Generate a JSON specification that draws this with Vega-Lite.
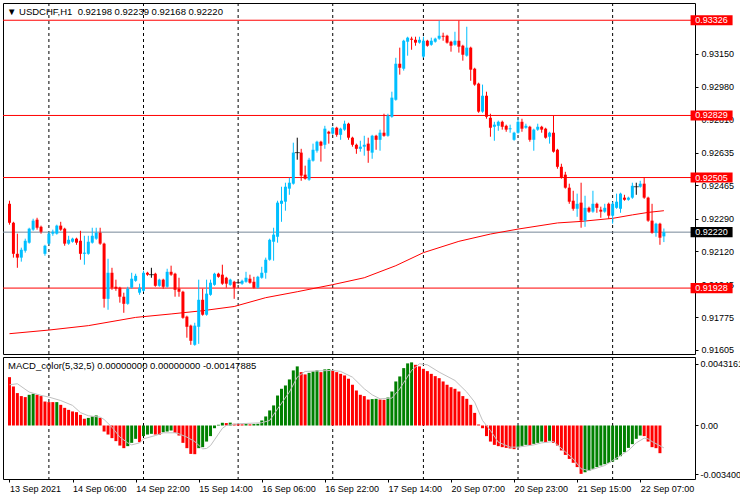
{
"$schema":"https://vega.github.io/schema/vega-lite/v6.json",
"background":"white",
"padding":{"left":2,"top":2,"right":0,"bottom":0},
"spacing":3,
"bounds":"flush",
"config":{
"view":{"stroke":"black","strokeWidth":1},
"font":"Liberation Sans",
"axis":{"labelFont":"Liberation Sans","labelFontSize":9,"labelColor":"black","tickColor":"black","tickSize":3,"domain":false,"grid":false,"labelOverlap":false,"labelFlush":false},
"title":{"font":"Liberation Sans","fontSize":9.5,"fontWeight":"normal","color":"black","anchor":"start","frame":"group"}
},
"datasets":{
"candles":[
{"i":0,"o":0.92368,"h":0.92384,"l":0.92259,"c":0.92269},
{"i":1,"o":0.92269,"h":0.92274,"l":0.92087,"c":0.92107},
{"i":2,"o":0.92107,"h":0.92212,"l":0.92034,"c":0.92087},
{"i":3,"o":0.92087,"h":0.92139,"l":0.92066,"c":0.92128},
{"i":4,"o":0.92123,"h":0.92186,"l":0.92113,"c":0.92175},
{"i":5,"o":0.92165,"h":0.92243,"l":0.9216,"c":0.92238},
{"i":6,"o":0.92233,"h":0.9229,"l":0.92227,"c":0.9228},
{"i":7,"o":0.92285,"h":0.92295,"l":0.92233,"c":0.92243},
{"i":8,"o":0.92248,"h":0.92254,"l":0.92212,"c":0.92222},
{"i":9,"o":0.92107,"h":0.92154,"l":0.92097,"c":0.92149},
{"i":10,"o":0.9216,"h":0.92222,"l":0.92154,"c":0.92212},
{"i":11,"o":0.92212,"h":0.92233,"l":0.92201,"c":0.92222},
{"i":12,"o":0.92212,"h":0.92259,"l":0.92207,"c":0.92254},
{"i":13,"o":0.92254,"h":0.92274,"l":0.92227,"c":0.92233},
{"i":14,"o":0.92238,"h":0.92243,"l":0.92149,"c":0.9216},
{"i":15,"o":0.9216,"h":0.92201,"l":0.92154,"c":0.9218},
{"i":16,"o":0.9217,"h":0.92191,"l":0.92165,"c":0.92186},
{"i":17,"o":0.92186,"h":0.92191,"l":0.92154,"c":0.92165},
{"i":18,"o":0.92175,"h":0.92227,"l":0.92076,"c":0.92107},
{"i":19,"o":0.92107,"h":0.92201,"l":0.9205,"c":0.92113},
{"i":20,"o":0.92107,"h":0.92201,"l":0.92102,"c":0.9217},
{"i":21,"o":0.92165,"h":0.92243,"l":0.9216,"c":0.92201},
{"i":22,"o":0.92186,"h":0.92243,"l":0.9218,"c":0.92217},
{"i":23,"o":0.92217,"h":0.92243,"l":0.92154,"c":0.9216},
{"i":24,"o":0.9216,"h":0.92165,"l":0.91826,"c":0.91872},
{"i":25,"o":0.91872,"h":0.92081,"l":0.91815,"c":0.92008},
{"i":26,"o":0.92008,"h":0.92034,"l":0.91919,"c":0.9193},
{"i":27,"o":0.91935,"h":0.91972,"l":0.91914,"c":0.91925},
{"i":28,"o":0.9193,"h":0.91935,"l":0.91852,"c":0.91883},
{"i":29,"o":0.91883,"h":0.91904,"l":0.91799,"c":0.91846},
{"i":30,"o":0.91846,"h":0.91935,"l":0.91841,"c":0.91925},
{"i":31,"o":0.9193,"h":0.92008,"l":0.91925,"c":0.91977},
{"i":32,"o":0.91966,"h":0.92003,"l":0.91961,"c":0.91992},
{"i":33,"o":0.91904,"h":0.91951,"l":0.91893,"c":0.9193},
{"i":34,"o":0.91914,"h":0.92019,"l":0.91909,"c":0.92008},
{"i":35,"o":0.92008,"h":0.92013,"l":0.91992,"c":0.91998},
{"i":36,"o":0.91998,"h":0.92034,"l":0.91982,"c":0.91998},
{"i":37,"o":0.92003,"h":0.92008,"l":0.91935,"c":0.9194},
{"i":38,"o":0.9194,"h":0.91977,"l":0.91935,"c":0.91972},
{"i":39,"o":0.91972,"h":0.91977,"l":0.91925,"c":0.91935},
{"i":40,"o":0.91935,"h":0.92029,"l":0.9193,"c":0.92013},
{"i":41,"o":0.92013,"h":0.92045,"l":0.91992,"c":0.91998},
{"i":42,"o":0.92003,"h":0.92008,"l":0.91883,"c":0.91919},
{"i":43,"o":0.91925,"h":0.91982,"l":0.91883,"c":0.91909},
{"i":44,"o":0.91909,"h":0.91914,"l":0.91768,"c":0.91773},
{"i":45,"o":0.91779,"h":0.91784,"l":0.91669,"c":0.91726},
{"i":46,"o":0.91732,"h":0.91737,"l":0.91632,"c":0.91653},
{"i":47,"o":0.91632,"h":0.91747,"l":0.91627,"c":0.91732},
{"i":48,"o":0.91726,"h":0.91972,"l":0.91637,"c":0.91867},
{"i":49,"o":0.91867,"h":0.91925,"l":0.91784,"c":0.91789},
{"i":50,"o":0.91789,"h":0.91972,"l":0.91784,"c":0.91899},
{"i":51,"o":0.91893,"h":0.91972,"l":0.91888,"c":0.91956},
{"i":52,"o":0.91945,"h":0.92008,"l":0.9194,"c":0.92003},
{"i":53,"o":0.92003,"h":0.92008,"l":0.91982,"c":0.91987},
{"i":54,"o":0.91998,"h":0.9205,"l":0.91945,"c":0.91951},
{"i":55,"o":0.91982,"h":0.91987,"l":0.9193,"c":0.91951},
{"i":56,"o":0.91945,"h":0.91977,"l":0.9194,"c":0.91972},
{"i":57,"o":0.91961,"h":0.91966,"l":0.91872,"c":0.9193},
{"i":58,"o":0.91956,"h":0.91961,"l":0.91951,"c":0.91956},
{"i":59,"o":0.91951,"h":0.91972,"l":0.91945,"c":0.91966},
{"i":60,"o":0.91961,"h":0.92013,"l":0.91956,"c":0.91982},
{"i":61,"o":0.91977,"h":0.91998,"l":0.91951,"c":0.91956},
{"i":62,"o":0.91961,"h":0.91987,"l":0.91925,"c":0.9193},
{"i":63,"o":0.9193,"h":0.91992,"l":0.91925,"c":0.91987},
{"i":64,"o":0.91982,"h":0.92039,"l":0.91977,"c":0.92008},
{"i":65,"o":0.92008,"h":0.92087,"l":0.91977,"c":0.92076},
{"i":66,"o":0.92076,"h":0.92186,"l":0.92071,"c":0.9218},
{"i":67,"o":0.9217,"h":0.92243,"l":0.92071,"c":0.92207},
{"i":68,"o":0.92196,"h":0.92384,"l":0.92165,"c":0.92374},
{"i":69,"o":0.92368,"h":0.92457,"l":0.92274,"c":0.92384},
{"i":70,"o":0.92379,"h":0.92478,"l":0.92332,"c":0.92457},
{"i":71,"o":0.92447,"h":0.92504,"l":0.92415,"c":0.92478},
{"i":72,"o":0.92473,"h":0.92687,"l":0.92468,"c":0.92635},
{"i":73,"o":0.92635,"h":0.92713,"l":0.92598,"c":0.92635},
{"i":74,"o":0.92635,"h":0.92655,"l":0.92488,"c":0.92515},
{"i":75,"o":0.9252,"h":0.92567,"l":0.92494,"c":0.92499},
{"i":76,"o":0.92494,"h":0.92608,"l":0.92488,"c":0.92598},
{"i":77,"o":0.92593,"h":0.92682,"l":0.92588,"c":0.9265},
{"i":78,"o":0.92645,"h":0.92697,"l":0.92635,"c":0.92692},
{"i":79,"o":0.92692,"h":0.92697,"l":0.92588,"c":0.92671},
{"i":80,"o":0.92676,"h":0.92775,"l":0.92655,"c":0.9276},
{"i":81,"o":0.92744,"h":0.92749,"l":0.92682,"c":0.92734},
{"i":82,"o":0.92734,"h":0.9277,"l":0.92728,"c":0.92765},
{"i":83,"o":0.92765,"h":0.9277,"l":0.92718,"c":0.92728},
{"i":84,"o":0.92728,"h":0.92765,"l":0.92702,"c":0.9276},
{"i":85,"o":0.92755,"h":0.92802,"l":0.92749,"c":0.92786},
{"i":86,"o":0.92786,"h":0.92791,"l":0.92702,"c":0.92713},
{"i":87,"o":0.92713,"h":0.92718,"l":0.92666,"c":0.92676},
{"i":88,"o":0.92676,"h":0.92682,"l":0.92629,"c":0.92655},
{"i":89,"o":0.92655,"h":0.92697,"l":0.9264,"c":0.92666},
{"i":90,"o":0.92666,"h":0.92723,"l":0.92619,"c":0.92676},
{"i":91,"o":0.92682,"h":0.92713,"l":0.92582,"c":0.92645},
{"i":92,"o":0.92635,"h":0.92728,"l":0.92603,"c":0.92723},
{"i":93,"o":0.92723,"h":0.92728,"l":0.9265,"c":0.92702},
{"i":94,"o":0.92702,"h":0.92755,"l":0.92645,"c":0.92739},
{"i":95,"o":0.92739,"h":0.92838,"l":0.92718,"c":0.92723},
{"i":96,"o":0.92723,"h":0.92838,"l":0.92718,"c":0.92828},
{"i":97,"o":0.92822,"h":0.92953,"l":0.92817,"c":0.92922},
{"i":98,"o":0.92911,"h":0.9313,"l":0.92906,"c":0.93099},
{"i":99,"o":0.93099,"h":0.93183,"l":0.93042,"c":0.93078},
{"i":100,"o":0.93073,"h":0.93224,"l":0.93063,"c":0.93219},
{"i":101,"o":0.93214,"h":0.9324,"l":0.93141,"c":0.93235},
{"i":102,"o":0.9323,"h":0.9324,"l":0.93172,"c":0.93224},
{"i":103,"o":0.93224,"h":0.9324,"l":0.93193,"c":0.93209},
{"i":104,"o":0.93209,"h":0.9324,"l":0.93204,"c":0.93224},
{"i":105,"o":0.93136,"h":0.9324,"l":0.9313,"c":0.93219},
{"i":106,"o":0.93219,"h":0.93224,"l":0.93188,"c":0.93193},
{"i":107,"o":0.93198,"h":0.93235,"l":0.93193,"c":0.93219},
{"i":108,"o":0.93214,"h":0.93235,"l":0.93209,"c":0.9323},
{"i":109,"o":0.9323,"h":0.93324,"l":0.93224,"c":0.93245},
{"i":110,"o":0.93245,"h":0.93261,"l":0.93219,"c":0.9324},
{"i":111,"o":0.93245,"h":0.9325,"l":0.93204,"c":0.93209},
{"i":112,"o":0.93214,"h":0.93219,"l":0.93162,"c":0.93193},
{"i":113,"o":0.93198,"h":0.93266,"l":0.93193,"c":0.93219},
{"i":114,"o":0.93219,"h":0.93324,"l":0.93157,"c":0.93188},
{"i":115,"o":0.93193,"h":0.93198,"l":0.93115,"c":0.93146},
{"i":116,"o":0.93141,"h":0.93292,"l":0.93136,"c":0.93183},
{"i":117,"o":0.93183,"h":0.93188,"l":0.9301,"c":0.93068},
{"i":118,"o":0.93073,"h":0.93078,"l":0.92984,"c":0.9299},
{"i":119,"o":0.92995,"h":0.93,"l":0.92843,"c":0.92849},
{"i":120,"o":0.92849,"h":0.9299,"l":0.92843,"c":0.92932},
{"i":121,"o":0.92932,"h":0.92953,"l":0.92812,"c":0.92822},
{"i":122,"o":0.92817,"h":0.92838,"l":0.92718,"c":0.92765},
{"i":123,"o":0.9277,"h":0.92796,"l":0.92697,"c":0.92781},
{"i":124,"o":0.92775,"h":0.92802,"l":0.92749,"c":0.92796},
{"i":125,"o":0.92796,"h":0.92802,"l":0.92755,"c":0.9277},
{"i":126,"o":0.92775,"h":0.92781,"l":0.92744,"c":0.92755},
{"i":127,"o":0.92757,"h":0.92781,"l":0.92739,"c":0.92762},
{"i":128,"o":0.92702,"h":0.92744,"l":0.92697,"c":0.92739},
{"i":129,"o":0.92739,"h":0.92812,"l":0.92734,"c":0.92796},
{"i":130,"o":0.92796,"h":0.92812,"l":0.92744,"c":0.9276},
{"i":131,"o":0.92765,"h":0.92786,"l":0.9276,"c":0.92775},
{"i":132,"o":0.9277,"h":0.92775,"l":0.92692,"c":0.92702},
{"i":133,"o":0.92702,"h":0.9276,"l":0.92645,"c":0.92755},
{"i":134,"o":0.92755,"h":0.92786,"l":0.92749,"c":0.9277},
{"i":135,"o":0.9277,"h":0.92775,"l":0.92739,"c":0.92755},
{"i":136,"o":0.9276,"h":0.92765,"l":0.92708,"c":0.92713},
{"i":137,"o":0.92718,"h":0.92744,"l":0.92682,"c":0.92739},
{"i":138,"o":0.92739,"h":0.92828,"l":0.92635,"c":0.9264},
{"i":139,"o":0.9265,"h":0.92655,"l":0.92551,"c":0.92561},
{"i":140,"o":0.92561,"h":0.92577,"l":0.92499,"c":0.92504},
{"i":141,"o":0.9252,"h":0.92535,"l":0.92447,"c":0.92452},
{"i":142,"o":0.92452,"h":0.92473,"l":0.92368,"c":0.92379},
{"i":143,"o":0.92384,"h":0.92436,"l":0.92332,"c":0.92342},
{"i":144,"o":0.92342,"h":0.92421,"l":0.923,"c":0.92368},
{"i":145,"o":0.92374,"h":0.92478,"l":0.92243,"c":0.9228},
{"i":146,"o":0.9228,"h":0.9241,"l":0.92248,"c":0.92347},
{"i":147,"o":0.92347,"h":0.92353,"l":0.92321,"c":0.92327},
{"i":148,"o":0.92327,"h":0.92436,"l":0.92321,"c":0.92368},
{"i":149,"o":0.92368,"h":0.92374,"l":0.92321,"c":0.92347},
{"i":150,"o":0.92337,"h":0.92353,"l":0.92295,"c":0.92327},
{"i":151,"o":0.92327,"h":0.92368,"l":0.92321,"c":0.92347},
{"i":152,"o":0.92368,"h":0.92374,"l":0.9229,"c":0.92306},
{"i":153,"o":0.92306,"h":0.92379,"l":0.92264,"c":0.92368},
{"i":154,"o":0.92347,"h":0.92421,"l":0.92342,"c":0.92379},
{"i":155,"o":0.92342,"h":0.92426,"l":0.92321,"c":0.92421},
{"i":156,"o":0.924,"h":0.92415,"l":0.92384,"c":0.92389},
{"i":157,"o":0.92389,"h":0.92405,"l":0.92384,"c":0.924},
{"i":158,"o":0.924,"h":0.92478,"l":0.92394,"c":0.92462},
{"i":159,"o":0.92457,"h":0.92478,"l":0.92415,"c":0.92457},
{"i":160,"o":0.92457,"h":0.92488,"l":0.92452,"c":0.92473},
{"i":161,"o":0.92473,"h":0.92504,"l":0.92394,"c":0.924},
{"i":162,"o":0.924,"h":0.92405,"l":0.92274,"c":0.9228},
{"i":163,"o":0.9228,"h":0.92368,"l":0.92212,"c":0.92217},
{"i":164,"o":0.92217,"h":0.92269,"l":0.92196,"c":0.92264},
{"i":165,"o":0.92264,"h":0.92269,"l":0.92154,"c":0.92191},
{"i":166,"o":0.92198,"h":0.92239,"l":0.92168,"c":0.9222}
],
"ma":[
{"i":0,"v":0.9169},{"i":10,"v":0.91709},{"i":20,"v":0.91732},{"i":32,"v":0.91775},{"i":41,"v":0.91793},{"i":49,"v":0.9181},{"i":57,"v":0.91832},{"i":65,"v":0.91878},{"i":73,"v":0.91909},{"i":82,"v":0.91946},{"i":90,"v":0.91982},{"i":98,"v":0.92045},{"i":105,"v":0.92113},{"i":114,"v":0.92172},{"i":122,"v":0.9221},{"i":129,"v":0.92236},{"i":139,"v":0.92268},{"i":145,"v":0.92276},{"i":153,"v":0.92292},{"i":158,"v":0.9231},{"i":162,"v":0.92323},{"i":166,"v":0.92332}
],
"levels":[
{"p":0.93326,"kind":"level"},{"p":0.92829,"kind":"level"},{"p":0.92505,"kind":"level"},{"p":0.91928,"kind":"level"},{"p":0.9222,"kind":"bid"}
],
"days":[{"i":10},{"i":34},{"i":58},{"i":82},{"i":105},{"i":129},{"i":153}],
"macd":[
{"i":0,"v":0.00337,"b":"dn"},{"i":1,"v":0.00272,"b":"dn"},{"i":2,"v":0.00226,"b":"dn"},{"i":3,"v":0.00205,"b":"dn"},{"i":4,"v":0.00198,"b":"dn"},{"i":5,"v":0.00214,"b":"up"},{"i":6,"v":0.00221,"b":"up"},{"i":7,"v":0.00214,"b":"dn"},{"i":8,"v":0.00205,"b":"dn"},{"i":9,"v":0.00167,"b":"dn"},
{"i":10,"v":0.00163,"b":"dn"},{"i":11,"v":0.00163,"b":"dn"},{"i":12,"v":0.00163,"b":"up"},{"i":13,"v":0.00144,"b":"dn"},{"i":14,"v":0.00123,"b":"dn"},{"i":15,"v":0.00109,"b":"dn"},{"i":16,"v":0.00098,"b":"dn"},{"i":17,"v":0.00093,"b":"dn"},{"i":18,"v":0.00074,"b":"dn"},{"i":19,"v":0.00047,"b":"dn"},
{"i":20,"v":0.00053,"b":"up"},{"i":21,"v":0.00063,"b":"up"},{"i":22,"v":0.0007,"b":"up"},{"i":23,"v":0.00053,"b":"dn"},{"i":24,"v":-0.00042,"b":"dn"},{"i":25,"v":-0.00063,"b":"dn"},{"i":26,"v":-0.00088,"b":"dn"},{"i":27,"v":-0.00109,"b":"dn"},{"i":28,"v":-0.0014,"b":"dn"},{"i":29,"v":-0.00158,"b":"dn"},
{"i":30,"v":-0.00144,"b":"up"},{"i":31,"v":-0.00121,"b":"up"},{"i":32,"v":-0.00093,"b":"up"},{"i":33,"v":-0.00116,"b":"dn"},{"i":34,"v":-0.00074,"b":"up"},{"i":35,"v":-0.00063,"b":"up"},{"i":36,"v":-0.00058,"b":"up"},{"i":37,"v":-0.00063,"b":"dn"},{"i":38,"v":-0.00065,"b":"dn"},{"i":39,"v":-0.00047,"b":"up"},
{"i":40,"v":-0.00042,"b":"up"},{"i":41,"v":-0.00035,"b":"up"},{"i":42,"v":-0.00051,"b":"dn"},{"i":43,"v":-0.0007,"b":"dn"},{"i":44,"v":-0.00121,"b":"dn"},{"i":45,"v":-0.00158,"b":"dn"},{"i":46,"v":-0.00198,"b":"dn"},{"i":47,"v":-0.002,"b":"dn"},{"i":48,"v":-0.00158,"b":"up"},{"i":49,"v":-0.00151,"b":"up"},
{"i":50,"v":-0.00112,"b":"up"},{"i":51,"v":-0.00074,"b":"up"},{"i":52,"v":-0.00019,"b":"up"},{"i":53,"v":0.00005,"b":"up"},{"i":54,"v":0.00019,"b":"up"},{"i":55,"v":0.00017,"b":"dn"},{"i":56,"v":0.0002,"b":"up"},{"i":57,"v":0.00012,"b":"dn"},{"i":58,"v":0.0001,"b":"dn"},{"i":59,"v":0.00008,"b":"dn"},
{"i":60,"v":0.0001,"b":"up"},{"i":61,"v":0.00008,"b":"dn"},{"i":62,"v":0.0001,"b":"up"},{"i":63,"v":0.00012,"b":"up"},{"i":64,"v":0.00035,"b":"up"},{"i":65,"v":0.00063,"b":"up"},{"i":66,"v":0.00105,"b":"up"},{"i":67,"v":0.0014,"b":"up"},{"i":68,"v":0.00209,"b":"up"},{"i":69,"v":0.00256,"b":"up"},
{"i":70,"v":0.00279,"b":"up"},{"i":71,"v":0.00321,"b":"up"},{"i":72,"v":0.00384,"b":"up"},{"i":73,"v":0.00412,"b":"up"},{"i":74,"v":0.00372,"b":"dn"},{"i":75,"v":0.00356,"b":"dn"},{"i":76,"v":0.00367,"b":"up"},{"i":77,"v":0.00377,"b":"up"},{"i":78,"v":0.00384,"b":"up"},{"i":79,"v":0.00372,"b":"dn"},
{"i":80,"v":0.00391,"b":"up"},{"i":81,"v":0.00393,"b":"up"},{"i":82,"v":0.00384,"b":"dn"},{"i":83,"v":0.00372,"b":"dn"},{"i":84,"v":0.0036,"b":"dn"},{"i":85,"v":0.00349,"b":"dn"},{"i":86,"v":0.00326,"b":"dn"},{"i":87,"v":0.00284,"b":"dn"},{"i":88,"v":0.00244,"b":"dn"},{"i":89,"v":0.00214,"b":"dn"},
{"i":90,"v":0.00205,"b":"dn"},{"i":91,"v":0.00181,"b":"dn"},{"i":92,"v":0.00184,"b":"up"},{"i":93,"v":0.00186,"b":"up"},{"i":94,"v":0.00181,"b":"dn"},{"i":95,"v":0.00179,"b":"dn"},{"i":96,"v":0.00195,"b":"up"},{"i":97,"v":0.00237,"b":"up"},{"i":98,"v":0.00307,"b":"up"},{"i":99,"v":0.00342,"b":"up"},
{"i":100,"v":0.004,"b":"up"},{"i":101,"v":0.00433,"b":"up"},{"i":102,"v":0.0044,"b":"up"},{"i":103,"v":0.00423,"b":"dn"},{"i":104,"v":0.00412,"b":"dn"},{"i":105,"v":0.00395,"b":"dn"},{"i":106,"v":0.00379,"b":"dn"},{"i":107,"v":0.0036,"b":"dn"},{"i":108,"v":0.00344,"b":"dn"},{"i":109,"v":0.0033,"b":"dn"},
{"i":110,"v":0.00307,"b":"dn"},{"i":111,"v":0.00284,"b":"dn"},{"i":112,"v":0.00267,"b":"dn"},{"i":113,"v":0.00256,"b":"dn"},{"i":114,"v":0.00237,"b":"dn"},{"i":115,"v":0.00205,"b":"dn"},{"i":116,"v":0.00186,"b":"dn"},{"i":117,"v":0.00144,"b":"dn"},{"i":118,"v":0.00088,"b":"dn"},{"i":119,"v":0.00007,"b":"dn"},
{"i":120,"v":-0.00019,"b":"dn"},{"i":121,"v":-0.00074,"b":"dn"},{"i":122,"v":-0.00112,"b":"dn"},{"i":123,"v":-0.00135,"b":"dn"},{"i":124,"v":-0.00144,"b":"dn"},{"i":125,"v":-0.00151,"b":"dn"},{"i":126,"v":-0.00156,"b":"dn"},{"i":127,"v":-0.0016,"b":"dn"},{"i":128,"v":-0.00165,"b":"dn"},{"i":129,"v":-0.00151,"b":"up"},
{"i":130,"v":-0.00142,"b":"up"},{"i":131,"v":-0.00135,"b":"up"},{"i":132,"v":-0.00137,"b":"dn"},{"i":133,"v":-0.00128,"b":"up"},{"i":134,"v":-0.00121,"b":"up"},{"i":135,"v":-0.00112,"b":"up"},{"i":136,"v":-0.00116,"b":"dn"},{"i":137,"v":-0.00107,"b":"up"},{"i":138,"v":-0.00121,"b":"dn"},{"i":139,"v":-0.0014,"b":"dn"},
{"i":140,"v":-0.00174,"b":"dn"},{"i":141,"v":-0.00205,"b":"dn"},{"i":142,"v":-0.00233,"b":"dn"},{"i":143,"v":-0.0026,"b":"dn"},{"i":144,"v":-0.0029,"b":"dn"},{"i":145,"v":-0.00337,"b":"dn"},{"i":146,"v":-0.00326,"b":"up"},{"i":147,"v":-0.00316,"b":"up"},{"i":148,"v":-0.00302,"b":"up"},{"i":149,"v":-0.0029,"b":"up"},
{"i":150,"v":-0.00279,"b":"up"},{"i":151,"v":-0.0027,"b":"up"},{"i":152,"v":-0.00262,"b":"up"},{"i":153,"v":-0.00252,"b":"up"},{"i":154,"v":-0.00237,"b":"up"},{"i":155,"v":-0.00214,"b":"up"},{"i":156,"v":-0.00186,"b":"up"},{"i":157,"v":-0.00156,"b":"up"},{"i":158,"v":-0.0013,"b":"up"},{"i":159,"v":-0.00093,"b":"up"},
{"i":160,"v":-0.0007,"b":"up"},{"i":161,"v":-0.00074,"b":"dn"},{"i":162,"v":-0.00112,"b":"dn"},{"i":163,"v":-0.00151,"b":"dn"},{"i":164,"v":-0.00158,"b":"dn"},{"i":165,"v":-0.00193,"b":"dn"}
],
"signal":[
{"i":0,"v":0.00284},{"i":2,"v":0.00291},{"i":5,"v":0.00233},{"i":8,"v":0.0021},{"i":10,"v":0.00198},{"i":13,"v":0.00174},{"i":16,"v":0.0014},{"i":18,"v":0.0009},{"i":20,"v":0.00068},{"i":23,"v":0.00058},{"i":24,"v":0.00042},{"i":26,"v":-0.00012},{"i":28,"v":-0.00081},{"i":30,"v":-0.00121},{"i":31,"v":-0.00135},{"i":33,"v":-0.00121},{"i":34,"v":-0.00093},{"i":37,"v":-0.0007},{"i":39,"v":-0.00051},{"i":42,"v":-0.00051},{"i":43,"v":-0.00058},{"i":45,"v":-0.00081},{"i":47,"v":-0.00112},{"i":49,"v":-0.00163},{"i":50,"v":-0.0016},{"i":51,"v":-0.0014},{"i":52,"v":-0.001},{"i":53,"v":-0.0006},{"i":54,"v":-0.0002},{"i":55,"v":0},{"i":58,"v":0.00012},{"i":64,"v":0.00019},{"i":66,"v":0.00035},{"i":68,"v":0.00116},{"i":71,"v":0.00233},{"i":73,"v":0.00337},{"i":75,"v":0.00377},{"i":82,"v":0.00384},{"i":84,"v":0.00377},{"i":87,"v":0.00337},{"i":90,"v":0.00256},{"i":92,"v":0.00214},{"i":94,"v":0.00186},{"i":97,"v":0.00191},{"i":99,"v":0.00256},{"i":102,"v":0.00384},{"i":104,"v":0.0043},{"i":106,"v":0.00423},{"i":109,"v":0.00372},{"i":113,"v":0.00314},{"i":116,"v":0.00233},{"i":118,"v":0.00163},{"i":120,"v":0.00035},{"i":122,"v":-0.00035},{"i":124,"v":-0.00116},{"i":127,"v":-0.00151},{"i":129,"v":-0.00151},{"i":133,"v":-0.00135},{"i":135,"v":-0.00121},{"i":138,"v":-0.00112},{"i":139,"v":-0.00135},{"i":143,"v":-0.00233},{"i":145,"v":-0.00302},{"i":147,"v":-0.00314},{"i":151,"v":-0.00279},{"i":153,"v":-0.00244},{"i":157,"v":-0.00174},{"i":159,"v":-0.00121},{"i":161,"v":-0.00088},{"i":162,"v":-0.00093},{"i":163,"v":-0.00112},{"i":166,"v":-0.00156}
]
},
"vconcat":[
{
"width":692,"height":351,
"title":{"text":"▼ USDCHF,H1\u00a0 0.92198 0.92239 0.92168 0.92220","offset":-14,"dx":4},
"layer":[
{"data":{"name":"days"},"mark":{"type":"rule","color":"black","strokeWidth":1,"strokeDash":[3,3]},
 "encoding":{"x":{"field":"i","type":"quantitative","scale":{"domain":[-0.375,172.625],"nice":false,"zero":false},"axis":null}}},
{"data":{"name":"levels"},"mark":{"type":"rule","strokeWidth":1},
 "encoding":{"y":{"field":"p","type":"quantitative","scale":{"domain":[0.91584,0.93416],"nice":false,"zero":false},
   "axis":{"orient":"right","values":[0.9315,0.9298,0.9281,0.92635,0.92465,0.9229,0.9212,0.91945,0.91775,0.91605],"format":".5f","labelPadding":3,"title":null}},
  "color":{"condition":{"test":"datum.kind === 'bid'","value":"#778899"},"value":"#FF0000"}}},
{"data":{"name":"ma"},"mark":{"type":"line","color":"#FF0000","strokeWidth":1},
 "encoding":{"x":{"field":"i","type":"quantitative","scale":{"domain":[-0.375,172.625],"nice":false,"zero":false},"axis":null},
  "y":{"field":"v","type":"quantitative","scale":{"domain":[0.91584,0.93416],"nice":false,"zero":false},
   "axis":{"orient":"right","values":[0.9315,0.9298,0.9281,0.92635,0.92465,0.9229,0.9212,0.91945,0.91775,0.91605],"format":".5f","labelPadding":3,"title":null}}}},
{"data":{"name":"candles"},"mark":{"type":"rule","strokeWidth":1},
 "encoding":{"x":{"field":"i","type":"quantitative","scale":{"domain":[-0.375,172.625],"nice":false,"zero":false},"axis":null},
  "y":{"field":"l","type":"quantitative","scale":{"domain":[0.91584,0.93416],"nice":false,"zero":false},
   "axis":{"orient":"right","values":[0.9315,0.9298,0.9281,0.92635,0.92465,0.9229,0.9212,0.91945,0.91775,0.91605],"format":".5f","labelPadding":3,"title":null}},
  "y2":{"field":"h"},
  "color":{"condition":[{"test":"datum.c > datum.o","value":"#00BFFF"},{"test":"datum.c < datum.o","value":"#FF0000"}],"value":"black"}}},
{"data":{"name":"candles"},"mark":{"type":"bar","width":3},
 "encoding":{"x":{"field":"i","type":"quantitative","scale":{"domain":[-0.375,172.625],"nice":false,"zero":false},"axis":null},
  "y":{"field":"o","type":"quantitative","scale":{"domain":[0.91584,0.93416],"nice":false,"zero":false},
   "axis":{"orient":"right","values":[0.9315,0.9298,0.9281,0.92635,0.92465,0.9229,0.9212,0.91945,0.91775,0.91605],"format":".5f","labelPadding":3,"title":null}},
  "y2":{"field":"c"},
  "color":{"condition":[{"test":"datum.c > datum.o","value":"#00BFFF"},{"test":"datum.c < datum.o","value":"#FF0000"}],"value":"black"}}},
{"data":{"name":"candles"},"transform":[{"filter":"datum.o === datum.c"}],"mark":{"type":"tick","orient":"horizontal","color":"black","thickness":1,"size":5},
 "encoding":{"x":{"field":"i","type":"quantitative","scale":{"domain":[-0.375,172.625],"nice":false,"zero":false},"axis":null},
  "y":{"field":"o","type":"quantitative","scale":{"domain":[0.91584,0.93416],"nice":false,"zero":false},
   "axis":{"orient":"right","values":[0.9315,0.9298,0.9281,0.92635,0.92465,0.9229,0.9212,0.91945,0.91775,0.91605],"format":".5f","labelPadding":3,"title":null}}}},
{"data":{"name":"levels"},"mark":{"type":"point","shape":"M-1,-0.24H1V0.24H-1Z","size":1764,"filled":true,"opacity":1,"strokeWidth":0},
 "encoding":{"x":{"datum":178.1,"type":"quantitative","scale":{"domain":[-0.375,172.625],"nice":false,"zero":false},"axis":null},
  "y":{"field":"p","type":"quantitative","scale":{"domain":[0.91584,0.93416],"nice":false,"zero":false},
   "axis":{"orient":"right","values":[0.9315,0.9298,0.9281,0.92635,0.92465,0.9229,0.9212,0.91945,0.91775,0.91605],"format":".5f","labelPadding":3,"title":null}},
  "color":{"condition":{"test":"datum.kind === 'bid'","value":"#000000"},"value":"#FF0000"}}},
{"data":{"name":"levels"},"mark":{"type":"text","color":"white","font":"Liberation Sans","fontSize":9,"align":"center","baseline":"middle"},
 "encoding":{"x":{"datum":178.1,"type":"quantitative","scale":{"domain":[-0.375,172.625],"nice":false,"zero":false},"axis":null},
  "y":{"field":"p","type":"quantitative","scale":{"domain":[0.91584,0.93416],"nice":false,"zero":false},
   "axis":{"orient":"right","values":[0.9315,0.9298,0.9281,0.92635,0.92465,0.9229,0.9212,0.91945,0.91775,0.91605],"format":".5f","labelPadding":3,"title":null}},
  "text":{"field":"p","type":"quantitative","format":".5f"}}}
]
},
{
"width":692,"height":122,
"title":{"text":"MACD_color(5,32,5) 0.00000000 0.00000000 -0.00147885","offset":-14,"dx":5},
"layer":[
{"data":{"name":"days"},"mark":{"type":"rule","color":"black","strokeWidth":1,"strokeDash":[3,3]},
 "encoding":{"x":{"field":"i","type":"quantitative","scale":{"domain":[-0.375,172.625],"nice":false,"zero":false},
   "axis":{"orient":"bottom","values":[0,16,32,48,64,80,96,112,128,144,160],"labelAlign":"left","labelPadding":2,"title":null,
   "labelExpr":"['13 Sep 2021','14 Sep 06:00','14 Sep 22:00','15 Sep 14:00','16 Sep 06:00','16 Sep 22:00','17 Sep 14:00','20 Sep 07:00','20 Sep 23:00','21 Sep 15:00','22 Sep 07:00'][round(datum.value/16)]"}}}},
{"data":{"name":"macd"},"mark":{"type":"bar","width":3},
 "encoding":{"x":{"field":"i","type":"quantitative","scale":{"domain":[-0.375,172.625],"nice":false,"zero":false},
   "axis":{"orient":"bottom","values":[0,16,32,48,64,80,96,112,128,144,160],"labelAlign":"left","labelPadding":2,"title":null,
   "labelExpr":"['13 Sep 2021','14 Sep 06:00','14 Sep 22:00','15 Sep 14:00','16 Sep 06:00','16 Sep 22:00','17 Sep 14:00','20 Sep 07:00','20 Sep 23:00','21 Sep 15:00','22 Sep 07:00'][round(datum.value/16)]"}},
  "y":{"field":"v","type":"quantitative","scale":{"domain":[-0.00373,0.004775],"nice":false,"zero":false},
   "axis":{"orient":"right","values":[0.0043161,0,-0.0034],"labelPadding":2,"title":null,
   "labelExpr":"datum.value > 0.001 ? '0.0043161' : (datum.value < -0.001 ? '-0.003400' : '0.00')"}},
  "y2":{"datum":0},
  "color":{"condition":{"test":"datum.b === 'up'","value":"#008000"},"value":"#FF0000"}}},
{"data":{"name":"signal"},"mark":{"type":"line","color":"#C0C0C0","strokeWidth":1},
 "encoding":{"x":{"field":"i","type":"quantitative","scale":{"domain":[-0.375,172.625],"nice":false,"zero":false},
   "axis":{"orient":"bottom","values":[0,16,32,48,64,80,96,112,128,144,160],"labelAlign":"left","labelPadding":2,"title":null,
   "labelExpr":"['13 Sep 2021','14 Sep 06:00','14 Sep 22:00','15 Sep 14:00','16 Sep 06:00','16 Sep 22:00','17 Sep 14:00','20 Sep 07:00','20 Sep 23:00','21 Sep 15:00','22 Sep 07:00'][round(datum.value/16)]"}},
  "y":{"field":"v","type":"quantitative","scale":{"domain":[-0.00373,0.004775],"nice":false,"zero":false},
   "axis":{"orient":"right","values":[0.0043161,0,-0.0034],"labelPadding":2,"title":null,
   "labelExpr":"datum.value > 0.001 ? '0.0043161' : (datum.value < -0.001 ? '-0.003400' : '0.00')"}}}}
]
}
]
}
